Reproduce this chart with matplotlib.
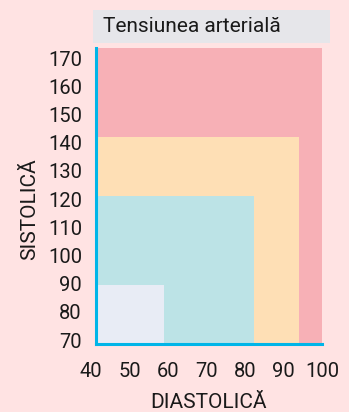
import matplotlib
matplotlib.use("Agg")
import matplotlib.pyplot as plt
from matplotlib.patches import Rectangle

plt.rcParams['font.family'] = ['Roboto', 'DejaVu Sans']

# Blood pressure zones: upper diastolic / systolic bound of each nested zone
zone_names = ["Hipertensiune", "Prehipertensiune", "Normală", "Scăzută"]
diastolic_upper = [100, 94, 82, 58]
systolic_upper = [170, 140, 120, 90]
zone_colors = ["#F7B0B6", "#FEDFB5", "#BCE3E6", "#E8ECF5"]

diastolic_min, systolic_min = 40, 70
x_ticks = [40, 50, 60, 70, 80, 90, 100]
y_ticks = [70, 80, 90, 100, 110, 120, 130, 140, 150, 160, 170]

title = "Tensiunea arterială"
x_label = "DIASTOLICĂ"
y_label = "SISTOLICĂ"

W, H = 349, 412
bg = "#FFE3E3"
axis_color = "#00B5E8"
text_color = "#1a1a1a"

fig = plt.figure(figsize=(W / 100, H / 100), dpi=100, facecolor=bg)


def px_rect(x0, y0, x1, y1):
    """Figure-fraction rect from pixel box (top-left origin)."""
    return [x0 / W, (H - y1) / H, (x1 - x0) / W, (y1 - y0) / H]


# zone plot
ax = fig.add_axes(px_rect(96, 48, 322, 344))
ax.set_facecolor(bg)
ax.set_xlim(diastolic_min, diastolic_upper[0])
ax.set_ylim(systolic_min, systolic_upper[0])
for name, dx, sy, c in zip(zone_names, diastolic_upper, systolic_upper, zone_colors):
    ax.add_patch(Rectangle((diastolic_min, systolic_min), dx - diastolic_min,
                           sy - systolic_min, facecolor=c, edgecolor="none",
                           label=name))
for s in ["top", "right"]:
    ax.spines[s].set_visible(False)
for s in ["left", "bottom"]:
    ax.spines[s].set_color(axis_color)
    ax.spines[s].set_linewidth(2.2)
ax.set_xticks([])
ax.set_yticks([])

# scale labels
lab = fig.add_axes(px_rect(91, 58, 322, 340))
lab.patch.set_visible(False)
for s in lab.spines.values():
    s.set_visible(False)
lab.set_xlim(x_ticks[0], x_ticks[-1])
lab.set_ylim(y_ticks[0], y_ticks[-1])
lab.set_xticks(x_ticks)
lab.set_yticks(y_ticks)
lab.tick_params(axis="both", length=0, labelsize=14.5, colors=text_color)
lab.tick_params(axis="y", pad=6.5)
lab.tick_params(axis="x", pad=16)

# axis titles
fig.text(30 / W, 1 - 209 / H, y_label, rotation=90, ha="center", va="center",
         fontsize=15, color=text_color)
fig.text(208 / W, 1 - 402 / H, x_label, ha="center", va="center",
         fontsize=15, color=text_color)

# title box
fig.patches.append(Rectangle((93 / W, 1 - 43 / H), (330 - 93) / W, 33 / H,
                             transform=fig.transFigure, facecolor="#E6E6EA",
                             edgecolor="none", zorder=0))
fig.text(103 / W, 1 - 27 / H, title, ha="left", va="center",
         fontsize=15, color=text_color)

fig.savefig("out.png", dpi=100, facecolor=bg)
